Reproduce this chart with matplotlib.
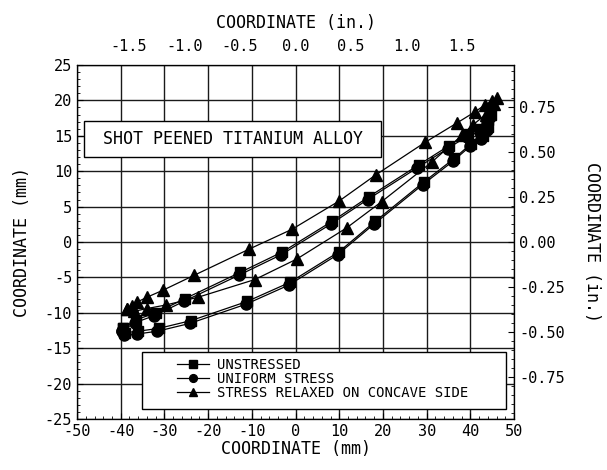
import numpy as np
import matplotlib
matplotlib.use("Agg")
import matplotlib.pyplot as plt
from matplotlib.patches import Rectangle
from matplotlib.ticker import MultipleLocator

plt.rcParams['font.family'] = ['DejaVu Sans Mono']
plt.rcParams['axes.unicode_minus'] = False

# unstressed profile: upper surface left->right, then lower surface right->left (mm)
unstressed_x = [-39.5, -36.5, -32.0, -25.3, -12.7, -3.0, 8.3, 16.8, 28.2, 35.1, 39.5, 42.5, 44.0, 44.8,
                44.0, 42.8, 40.2, 36.3, 29.4, 18.2, 9.9, -1.3, -11.1, -23.9, -31.3, -36.0, -39.0, -39.5]
unstressed_y = [-12.2, -11.0, -10.0, -8.0, -4.3, -1.4, 2.9, 6.4, 10.9, 13.6, 15.3, 16.0, 17.2, 18.0,
                16.2, 15.0, 13.9, 11.8, 8.5, 2.9, -1.4, -5.7, -8.4, -11.1, -12.2, -12.6, -12.8, -12.2]

uniform_x = [-39.8, -36.8, -32.3, -25.6, -13.0, -3.3, 8.0, 16.5, 27.9, 34.8, 39.2, 42.2, 43.7, 44.5,
             43.7, 42.5, 39.9, 36.0, 29.1, 17.9, 9.6, -1.6, -11.4, -24.2, -31.6, -36.3, -39.3, -39.8]
uniform_y = [-12.6, -11.4, -10.4, -8.4, -4.7, -1.8, 2.5, 6.0, 10.5, 13.2, 14.9, 15.6, 16.8, 17.6,
             15.8, 14.6, 13.5, 11.4, 8.1, 2.5, -1.8, -6.1, -8.8, -11.5, -12.6, -13.0, -13.2, -12.6]

relaxed_x = [-38.5, -37.5, -36.3, -34.0, -30.3, -23.2, -10.6, -0.8, 10.0, 18.4, 29.7, 36.9, 41.1, 43.4, 45.0, 46.1,
             45.5, 43.5, 40.5, 38.1, 31.2, 19.7, 11.7, 0.3, -9.3, -22.3, -29.7, -34.0, -37.0, -38.5]
relaxed_y = [-9.5, -9.0, -8.5, -7.8, -6.8, -4.7, -1.0, 1.8, 5.8, 9.5, 14.1, 16.8, 18.4, 19.4, 19.9, 20.3,
             19.5, 18.0, 16.5, 15.1, 11.3, 5.7, 2.0, -2.4, -5.3, -7.8, -8.9, -9.4, -9.8, -9.5]

labels = ['UNSTRESSED', 'UNIFORM STRESS', 'STRESS RELAXED ON CONCAVE SIDE']
in_ticks = [-1.5, -1.0, -0.5, 0.0, 0.5, 1.0, 1.5]
in_yticks = [-0.75, -0.5, -0.25, 0.0, 0.25, 0.5, 0.75]

fig = plt.figure(figsize=(6.07, 4.70), dpi=100)
ax = fig.add_axes([0.1269, 0.1085, 0.72, 0.7532])

ax.plot(unstressed_x, unstressed_y, '-', color='black', lw=0.9, marker='s', ms=7.5, label=labels[0], zorder=3)
ax.plot(uniform_x, uniform_y, '-', color='black', lw=0.9, marker='o', ms=8, label=labels[1], zorder=3)
ax.plot(relaxed_x, relaxed_y, '-', color='black', lw=0.9, marker='^', ms=9, label=labels[2], zorder=3)

ax.set_xlim(-50, 50)
ax.set_ylim(-25, 25)
ax.xaxis.set_major_locator(MultipleLocator(10))
ax.xaxis.set_minor_locator(MultipleLocator(2))
ax.yaxis.set_major_locator(MultipleLocator(5))
ax.yaxis.set_minor_locator(MultipleLocator(1))
ax.grid(True, which='major', color='0.1', lw=1)
ax.set_axisbelow(True)
ax.tick_params(which='both', direction='in', top=True, labelsize=11, colors='black')
ax.tick_params(which='major', length=4)
ax.tick_params(which='minor', length=2)
ax.tick_params(axis='y', right=False)
ax.set_xlabel('COORDINATE (mm)', fontsize=12, labelpad=1)
ax.set_ylabel('COORDINATE (mm)', fontsize=12, labelpad=10)

# inch axes
axt = ax.twiny()
axt.set_xlim(-50 / 25.4, 50 / 25.4)
axt.set_xticks(in_ticks)
axt.set_xticklabels(['%.1f' % v for v in in_ticks])
axt.tick_params(axis='x', length=0, labelsize=11, pad=8)
axt.set_xlabel('COORDINATE (in.)', fontsize=12, labelpad=8)

axr = ax.twinx()
axr.set_ylim(-25 / 25.4, 25 / 25.4)
axr.set_yticks(in_yticks)
axr.set_yticklabels(['%.2f' % v for v in in_yticks])
axr.yaxis.set_minor_locator(MultipleLocator(0.05))
axr.tick_params(which='both', direction='in', labelsize=11)
axr.tick_params(which='major', length=4)
axr.tick_params(which='minor', length=2)
axr.set_ylabel('COORDINATE (in.)', fontsize=12, rotation=-90, labelpad=26)

# title box
ax.add_patch(Rectangle((-48.4, 12.0), 68.0, 5.1, facecolor='white', edgecolor='black', lw=1, zorder=4))
ax.text(-14.4, 14.55, 'SHOT PEENED TITANIUM ALLOY', ha='center', va='center', fontsize=12, zorder=5)

# legend box
ax.add_patch(Rectangle((-35.1, -23.6), 83.3, 8.0, facecolor='white', edgecolor='black', lw=1, zorder=4))
leg = ax.legend(loc='upper left', bbox_to_anchor=(0.228, 0.172), frameon=False, fontsize=10,
                handlelength=2.3, handletextpad=0.6, labelspacing=0.0, markerscale=0.7,
                borderaxespad=0, borderpad=0)
leg.set_zorder(6)

fig.savefig('out.png', dpi=100)
